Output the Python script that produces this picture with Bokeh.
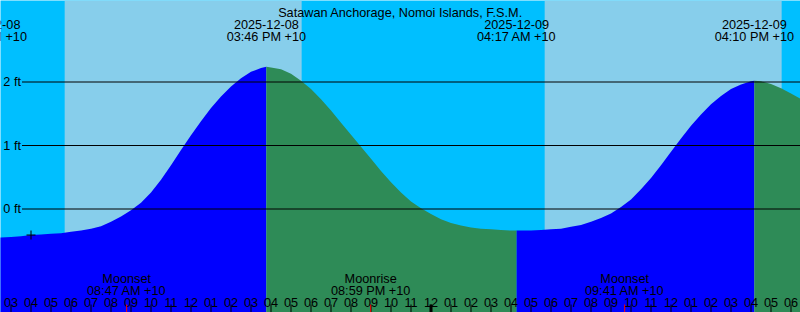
import pandas as pd
from bokeh.plotting import figure
from bokeh.models import Range1d, BoxAnnotation
from bokeh.core.properties import value
from bokeh.embed import file_html
from bokeh.resources import INLINE

# ---------------- data ----------------
TITLE = "Satawan Anchorage, Nomoi Islands, F.S.M."
T0 = pd.Timestamp("2025-12-08 00:00")

# tide height (ft), every half hour starting 2025-12-08 02:30 (+10)
SERIES_START = "2025-12-08 02:30"
TIDE_FT = [
    -0.45, -0.44, -0.43, -0.41, -0.40, -0.39, -0.38, -0.36, -0.34, -0.31,
    -0.27, -0.20, -0.12, -0.02, 0.10, 0.26, 0.46, 0.69, 0.93, 1.16,
    1.38, 1.59, 1.77, 1.93, 2.06, 2.16, 2.22, 2.23, 2.20, 2.13,
    2.02, 1.89, 1.73, 1.55, 1.36, 1.17, 0.98, 0.79, 0.60, 0.42,
    0.26, 0.12, 0.01, -0.08, -0.16, -0.22, -0.26, -0.29, -0.31, -0.32,
    -0.33, -0.34, -0.34, -0.34, -0.33, -0.32, -0.31, -0.28, -0.25, -0.20,
    -0.14, -0.07, 0.03, 0.15, 0.31, 0.49, 0.69, 0.90, 1.11, 1.31,
    1.49, 1.65, 1.78, 1.89, 1.96, 2.01, 2.01, 1.97, 1.90, 1.82,
    1.73,
]

# high / low tides
EXT_TIMES = ["2025-12-08 01:51", "2025-12-08 15:46", "2025-12-09 04:17", "2025-12-09 16:10"]
EXT_FT = [-0.46, 2.24, -0.34, 2.02]
EXT_DATE = ["2025-12-08", "2025-12-08", "2025-12-09", "2025-12-09"]
EXT_CLOCK = ["01:51 AM +10", "03:46 PM +10", "04:17 AM +10", "04:10 PM +10"]

SUNRISE = ["2025-12-08 05:41", "2025-12-09 05:41"]
SUNSET = ["2025-12-08 17:32", "2025-12-09 17:32"]

MOON_TIMES = ["2025-12-08 08:47", "2025-12-08 20:59", "2025-12-09 09:41"]
MOON_EVENT = ["Moonset", "Moonrise", "Moonset"]
MOON_CLOCK = ["08:47 AM +10", "08:59 PM +10", "09:41 AM +10"]

FT_LINES = [0, 1, 2]
FT_LABELS = ["0 ft", "1 ft", "2 ft"]

HOUR_TICKS = list(range(3, 43))          # hours after 2025-12-08 00:00
HOUR_LABELS = ["%02d" % ((h % 12) or 12) for h in HOUR_TICKS]
MIDNIGHTS = [24]

NOW_TIME = "2025-12-08 04:00"
NOW_FT = -0.41

# ---------------- layout / style ----------------
W, H = 800, 312
PX_PER_H = 20.0
PX_PER_FT = 63.5
X_START = 3 - 10.5 / PX_PER_H
X_END = X_START + W / PX_PER_H
Y_TOP = 208.5 / PX_PER_FT
Y_BOTTOM = Y_TOP - H / PX_PER_FT

NIGHT = "#00bfff"
DAY = "#87ceeb"
RISE = "#0000ff"
FALL = "#2e8b57"
FONT = "Liberation Sans"
FS = "12.7px"


def hrs(s):
    return (pd.Timestamp(s) - T0).total_seconds() / 3600.0


def sx(px):
    return X_START + px / PX_PER_H


def sy(px):
    return Y_TOP - px / PX_PER_FT


t_start = hrs(SERIES_START)
series_t = [t_start + 0.5 * i for i in range(len(TIDE_FT))]
ext_t = [hrs(s) for s in EXT_TIMES]
moon_t = [hrs(s) for s in MOON_TIMES]

p = figure(width=W, height=H, x_range=Range1d(X_START, X_END), y_range=Range1d(Y_BOTTOM, Y_TOP),
           x_axis_location=None, y_axis_location=None, output_backend="svg",
           toolbar_location=None, min_border=0, background_fill_color=NIGHT,
           border_fill_color=NIGHT, outline_line_color=None)
p.grid.visible = False

# day bands
for a, b in zip(SUNRISE, SUNSET):
    p.add_layout(BoxAnnotation(left=hrs(a), right=hrs(b), fill_color=DAY, fill_alpha=1.0,
                               line_color=None, level="underlay"))

# tide fill segments between extremes (blue rising, green falling)
bounds = ext_t + [series_t[-1] + 1]
bvals = EXT_FT + [None]
for i in range(len(ext_t)):
    a, b = bounds[i], bounds[i + 1]
    xs = [a]
    ys = [bvals[i]]
    for t, v in zip(series_t, TIDE_FT):
        if a < t < b:
            xs.append(t)
            ys.append(v)
    if bvals[i + 1] is not None:
        xs.append(b)
        ys.append(bvals[i + 1])
    rising = ys[-1] > ys[0]
    p.varea(x=xs, y1=Y_BOTTOM, y2=ys, fill_color=RISE if rising else FALL)

# horizontal level lines
p.segment(x0=[sx(21.5)] * len(FT_LINES), x1=[X_END] * len(FT_LINES), y0=FT_LINES, y1=FT_LINES,
          line_color="black", line_width=1)
p.text(x=[sx(20.5)] * len(FT_LINES), y=FT_LINES, text=FT_LABELS, text_font=value(FONT),
       text_font_size=value(FS), text_align="right", text_baseline="middle", text_color="black")

# "now" marker
p.scatter(x=[hrs(NOW_TIME)], y=[NOW_FT], marker="cross", size=9, line_color="black", line_width=1)

# title
p.text(x=[sx(400)], y=[sy(12)], text=[TITLE], text_font=value(FONT), text_font_size=value(FS),
       text_align="center", text_baseline="alphabetic", text_color="black")

# extremes labels
p.text(x=ext_t, y=[sy(24)] * len(ext_t), text=EXT_DATE, text_font=value(FONT), text_font_size=value(FS),
       text_align="center", text_baseline="alphabetic", text_color="black")
p.text(x=ext_t, y=[sy(36)] * len(ext_t), text=EXT_CLOCK, text_font=value(FONT), text_font_size=value(FS),
       text_align="center", text_baseline="alphabetic", text_color="black")

# moon labels
p.text(x=moon_t, y=[sy(278)] * len(moon_t), text=MOON_EVENT, text_font=value(FONT), text_font_size=value(FS),
       text_align="center", text_baseline="alphabetic", text_color="black")
p.text(x=moon_t, y=[sy(290)] * len(moon_t), text=MOON_CLOCK, text_font=value(FONT), text_font_size=value(FS),
       text_align="center", text_baseline="alphabetic", text_color="black")

# hour labels and ticks
p.text(x=HOUR_TICKS, y=[sy(302)] * len(HOUR_TICKS), text=HOUR_LABELS, text_font=value(FONT),
       text_font_size=value(FS), text_align="center", text_baseline="alphabetic", text_color="black")
p.segment(x0=HOUR_TICKS, x1=HOUR_TICKS, y0=[sy(304)] * len(HOUR_TICKS), y1=[Y_BOTTOM] * len(HOUR_TICKS),
          line_color="black", line_width=1)
p.segment(x0=MIDNIGHTS, x1=MIDNIGHTS, y0=[sy(304)] * len(MIDNIGHTS), y1=[Y_BOTTOM] * len(MIDNIGHTS),
          line_color="black", line_width=3)
p.segment(x0=moon_t, x1=moon_t, y0=[sy(304)] * len(moon_t), y1=[Y_BOTTOM] * len(moon_t),
          line_color="red", line_width=1)

open("out.html", "w").write(file_html(p, INLINE))
